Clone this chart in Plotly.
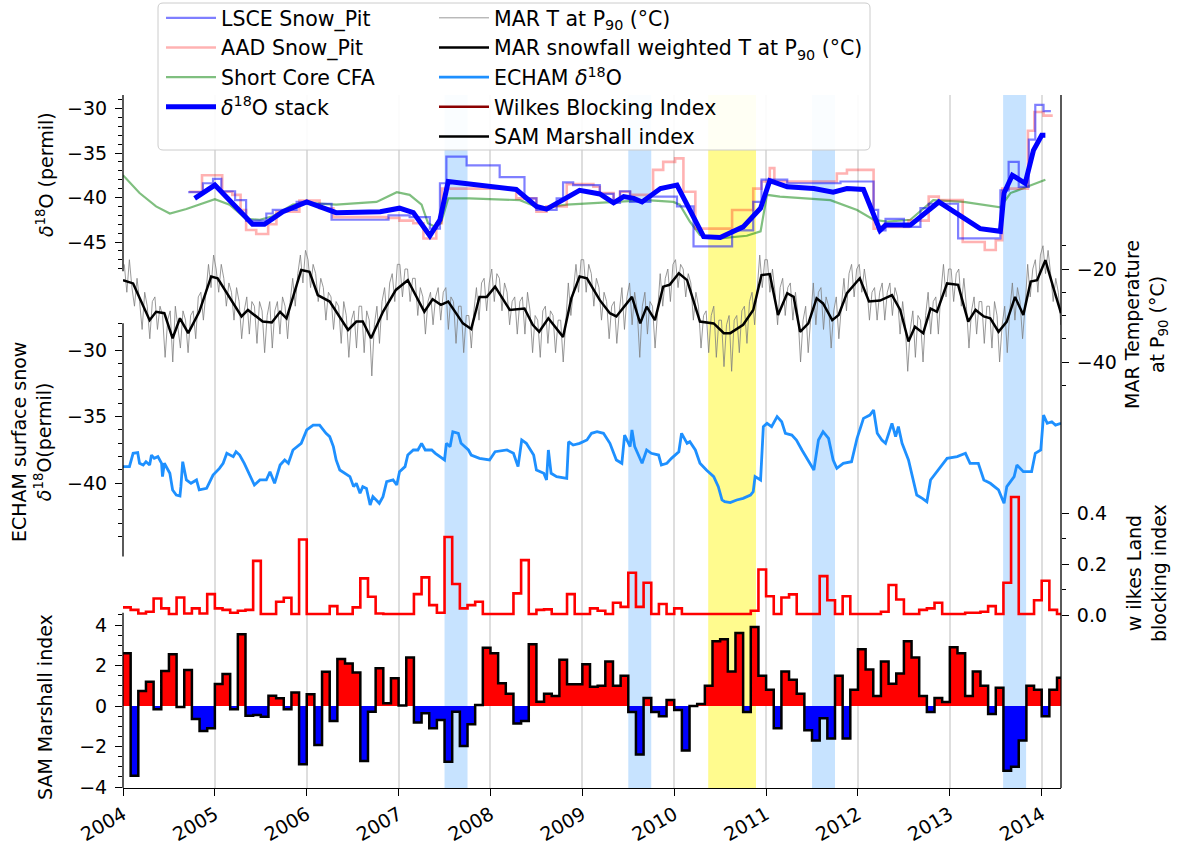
import numpy as np
import plotly.graph_objects as go

# ---------------- data ----------------
# delta18O stack (decimal year, permil)
stack_year = [2004.78, 2005.0, 2005.41, 2005.54, 2005.74, 2006.0, 2006.32, 2006.8, 2007.01, 2007.16,
              2007.34, 2007.45, 2007.54, 2008.28, 2008.5, 2008.61, 2008.97, 2009.19, 2009.34, 2009.45,
              2009.56, 2009.65, 2009.85, 2010.03, 2010.32, 2010.5, 2010.75, 2010.94, 2011.04, 2011.23,
              2011.52, 2011.73, 2011.88, 2012.06, 2012.24, 2012.3, 2012.57, 2012.88, 2013.33, 2013.55,
              2013.59, 2013.68, 2013.82, 2013.91, 2014.0, 2014.04]
stack_val = [-40.1, -38.6, -43.0, -43.0, -41.6, -40.5, -41.7, -41.6, -41.2, -41.7,
             -44.3, -42.5, -38.2, -39.1, -41.0, -41.3, -39.2, -39.6, -40.6, -39.9,
             -40.1, -40.5, -39.0, -38.6, -44.4, -44.5, -43.3, -41.2, -38.1, -38.8,
             -39.0, -39.4, -39.0, -39.1, -43.7, -43.1, -43.1, -40.5, -43.5, -43.8,
             -39.5, -37.5, -38.4, -34.7, -33.0, -33.0]

# LSCE snow pit (step starts)
lsce_year = [2004.71, 2004.87, 2004.98, 2005.07, 2005.22, 2005.34, 2005.56, 2005.63, 2005.89, 2006.0,
             2006.27, 2006.89, 2007.12, 2007.34, 2007.45, 2007.52, 2007.74, 2008.10, 2008.37, 2008.50,
             2008.72, 2008.79, 2008.90, 2009.19, 2009.34, 2009.41, 2009.52, 2009.74, 2010.03, 2010.21,
             2010.63, 2010.86, 2010.95, 2011.23, 2011.81, 2012.17, 2012.22, 2012.30, 2012.50, 2012.68,
             2012.77, 2013.09, 2013.55, 2013.64, 2013.75, 2013.86, 2013.93, 2014.02, 2014.10]
lsce_val = [-39.4, -38.4, -37.9, -39.3, -40.3, -42.6, -41.8, -41.4, -40.5, -40.7,
            -42.5, -42.0, -42.2, -43.5, -38.4, -35.4, -36.4, -37.7, -40.1, -41.4,
            -40.1, -38.3, -38.6, -39.6, -40.6, -39.3, -40.5, -39.9, -41.0, -45.5,
            -43.7, -40.5, -38.0, -38.4, -38.2, -41.4, -43.7, -42.4, -43.3, -41.2,
            -40.7, -44.6, -39.2, -36.0, -38.8, -33.5, -29.6, -30.3, -30.3]

# AAD snow pit (step starts)
aad_year = [2004.72, 2004.86, 2005.08, 2005.19, 2005.28, 2005.34, 2005.45, 2005.58, 2005.67, 2005.92,
            2006.14, 2006.29, 2006.87, 2007.01, 2007.16, 2007.27, 2007.41, 2007.47, 2008.28, 2008.50,
            2008.61, 2008.83, 2009.12, 2009.19, 2009.34, 2009.41, 2009.52, 2009.77, 2009.88, 2010.01,
            2010.10, 2010.23, 2010.63, 2010.86, 2010.95, 2011.04, 2011.09, 2011.77, 2011.88, 2012.17,
            2012.26, 2012.55, 2012.77, 2012.88, 2013.14, 2013.38, 2013.50, 2013.57, 2013.85, 2013.92,
            2014.02, 2014.12]
aad_val = [-39.35, -37.5, -39.35, -39.7, -41.4, -43.65, -44.1, -43.0, -41.6, -40.35,
           -41.2, -42.2, -42.3, -42.6, -42.9, -44.6, -42.9, -39.0, -40.1, -41.6,
           -41.0, -38.5, -38.8, -39.5, -40.3, -39.35, -39.7, -36.9, -36.0, -35.6,
           -39.35, -43.5, -41.4, -39.0, -38.2, -36.7, -38.2, -37.3, -36.9, -43.5,
           -43.3, -42.6, -39.9, -40.3, -45.0, -45.9, -44.8, -39.0, -32.5, -30.4,
           -30.8, -30.8]

# Short core CFA
cfa_year = [2004.0, 2004.18, 2004.36, 2004.51, 2004.69, 2004.87, 2005.0, 2005.16, 2005.34, 2005.49,
            2005.63, 2005.85, 2006.0, 2006.32, 2006.76, 2006.98, 2007.12, 2007.25, 2007.32, 2007.4,
            2007.46, 2007.54, 2007.77, 2008.32, 2008.54, 2008.83, 2009.34, 2009.7, 2009.99, 2010.06,
            2010.17, 2010.28, 2010.5, 2010.79, 2010.94, 2011.01, 2011.15, 2011.7, 2011.99, 2012.17,
            2012.32, 2012.57, 2012.82, 2013.15, 2013.55, 2013.66, 2013.84, 2014.04]
cfa_val = [-37.5, -39.5, -41.0, -41.8, -41.3, -40.7, -40.2, -40.8, -42.4, -42.5,
           -42.1, -40.8, -40.6, -40.8, -40.5, -39.4, -39.7, -40.8, -42.9, -43.3,
           -42.9, -40.1, -40.1, -40.3, -41.2, -40.8, -40.5, -40.3, -40.5, -40.8,
           -42.7, -44.2, -44.6, -44.3, -43.8, -39.7, -39.9, -40.3, -41.4, -42.5,
           -42.7, -42.5, -40.3, -40.5, -41.1, -39.5, -38.8, -38.0]

# MAR T at P90 (three readings per month, Jan 2004 - Mar 2014)
mar_t_val = [
    -19, -25, -18, -24, -28, -22, -27, -33, -25, -28, -35, -27, -26, -33, -28, -30, -39, -31,
    -29, -40, -28, -33, -37, -29, -31, -38, -30, -29, -35, -26, -25, -31, -24, -19, -24, -17,
    -20, -25, -19, -22, -28, -23, -25, -31, -24, -27, -35, -29, -26, -34, -27, -28, -36, -27,
    -29, -38, -30, -27, -37, -29, -27, -34, -26, -28, -35, -27, -22, -28, -21, -17, -23, -16,
    -18, -24, -19, -21, -27, -22, -24, -31, -25, -26, -33, -27, -28, -36, -27, -30, -39, -31,
    -29, -37, -28, -28, -38, -29, -31, -43, -32, -28, -36, -27, -24, -31, -23, -21, -27, -19,
    -19, -26, -20, -20, -27, -22, -22, -30, -24, -26, -34, -27, -25, -32, -26, -24, -31, -25,
    -24, -33, -26, -27, -36, -28, -28, -38, -30, -30, -37, -29, -24, -31, -23, -22, -29, -23,
    -20, -27, -21, -22, -29, -23, -25, -32, -27, -26, -34, -27, -26, -34, -25, -29, -38, -30,
    -31, -39, -29, -28, -36, -29, -30, -38, -31, -31, -40, -32, -23, -30, -24, -19, -25, -18,
    -18, -25, -19, -21, -28, -22, -24, -31, -25, -27, -35, -28, -27, -36, -29, -24, -33, -26,
    -23, -32, -25, -29, -39, -28, -25, -34, -27, -28, -37, -29, -21, -28, -22, -20, -27, -19,
    -18, -24, -19, -20, -26, -21, -23, -31, -25, -28, -37, -30, -29, -38, -30, -28, -39, -31,
    -31, -41, -32, -30, -42, -31, -30, -38, -29, -28, -36, -27, -25, -32, -24, -17, -24, -18,
    -18, -25, -20, -25, -32, -24, -22, -30, -24, -23, -31, -25, -30, -40, -31, -28, -38, -30,
    -23, -32, -25, -24, -33, -26, -28, -37, -29, -26, -35, -28, -22, -29, -21, -19, -26, -20,
    -19, -25, -20, -24, -31, -25, -24, -31, -25, -23, -31, -25, -23, -30, -24, -26, -34, -27,
    -32, -42, -33, -29, -39, -30, -31, -40, -30, -25, -34, -27, -26, -34, -25, -19, -26, -20,
    -20, -27, -21, -20, -28, -22, -28, -37, -29, -26, -34, -27, -27, -36, -28, -28, -37, -27,
    -30, -40, -32, -28, -38, -29, -23, -31, -24, -27, -35, -28, -19, -26, -20, -18, -25, -17,
    -15, -21, -16, -21, -27, -22, -25, -32, -27]

# MAR snowfall weighted T at P90
mar_sw_year = [2004.0, 2004.11, 2004.29, 2004.36, 2004.45, 2004.54, 2004.62, 2004.71, 2004.83, 2004.96,
               2005.03, 2005.16, 2005.29, 2005.36, 2005.52, 2005.62, 2005.71, 2005.78, 2005.94, 2006.03,
               2006.12, 2006.25, 2006.45, 2006.54, 2006.61, 2006.70, 2006.83, 2006.97, 2007.10, 2007.28,
               2007.37, 2007.46, 2007.54, 2007.70, 2007.79, 2007.88, 2007.96, 2008.05, 2008.21, 2008.37,
               2008.46, 2008.53, 2008.63, 2008.79, 2008.88, 2008.97, 2009.05, 2009.19, 2009.30, 2009.37,
               2009.54, 2009.63, 2009.70, 2009.79, 2009.88, 2009.95, 2010.05, 2010.14, 2010.28, 2010.43,
               2010.54, 2010.61, 2010.75, 2010.86, 2010.95, 2011.04, 2011.13, 2011.23, 2011.30, 2011.37,
               2011.46, 2011.55, 2011.62, 2011.72, 2011.79, 2011.88, 2012.02, 2012.12, 2012.24, 2012.37,
               2012.46, 2012.55, 2012.62, 2012.71, 2012.79, 2012.86, 2012.97, 2013.09, 2013.20, 2013.28,
               2013.37, 2013.44, 2013.53, 2013.62, 2013.71, 2013.80, 2013.88, 2013.95, 2014.04, 2014.13,
               2014.21]
mar_sw_val = [-22.4, -23.1, -31.0, -29.2, -29.5, -34.9, -30.6, -33.8, -29.2, -21.6,
              -22.0, -26.0, -30.2, -28.8, -31.3, -31.5, -29.2, -30.6, -20.2, -20.6,
              -25.6, -27.0, -33.1, -31.3, -31.3, -34.9, -29.2, -24.5, -22.4, -29.2,
              -26.5, -27.7, -27.0, -31.7, -32.9, -26.0, -26.0, -23.8, -28.8, -28.5,
              -32.0, -33.5, -30.6, -34.6, -26.3, -21.6, -22.0, -26.7, -29.5, -30.2,
              -26.0, -31.7, -28.1, -31.0, -23.8, -23.4, -20.9, -22.4, -31.3, -31.7,
              -33.8, -33.8, -32.0, -28.8, -21.3, -21.1, -29.9, -25.2, -26.0, -33.5,
              -31.7, -26.3, -27.4, -31.0, -29.9, -25.2, -22.0, -27.0, -26.8, -25.6,
              -28.8, -35.6, -32.4, -33.8, -28.5, -29.2, -23.1, -23.4, -31.3, -28.8,
              -30.2, -30.6, -33.5, -31.3, -26.0, -29.9, -22.7, -22.4, -18.1, -24.2,
              -29.5]

# ECHAM surface snow delta18O
echam_year = [2004.0, 2004.07, 2004.11, 2004.16, 2004.18, 2004.22, 2004.25, 2004.29, 2004.31, 2004.34,
              2004.38, 2004.42, 2004.43, 2004.45, 2004.51, 2004.54, 2004.58, 2004.62, 2004.63, 2004.65,
              2004.69, 2004.74, 2004.80, 2004.83, 2004.91, 2004.98, 2005.05, 2005.09, 2005.13, 2005.20,
              2005.23, 2005.27, 2005.32, 2005.38, 2005.43, 2005.49, 2005.56, 2005.60, 2005.65, 2005.71,
              2005.76, 2005.80, 2005.85, 2005.94, 2006.0, 2006.07, 2006.14, 2006.21, 2006.25, 2006.29,
              2006.32, 2006.36, 2006.47, 2006.51, 2006.54, 2006.58, 2006.61, 2006.65, 2006.69, 2006.72,
              2006.79, 2006.83, 2006.87, 2006.94, 2006.98, 2007.01, 2007.07, 2007.10, 2007.16, 2007.21,
              2007.25, 2007.29, 2007.36, 2007.40, 2007.45, 2007.50, 2007.52, 2007.56, 2007.59, 2007.65,
              2007.68, 2007.76, 2007.79, 2007.88, 2007.99, 2008.05, 2008.18, 2008.25, 2008.30, 2008.34,
              2008.39, 2008.47, 2008.50, 2008.58, 2008.61, 2008.63, 2008.66, 2008.72, 2008.83, 2008.85,
              2008.90, 2008.97, 2009.05, 2009.10, 2009.16, 2009.23, 2009.30, 2009.37, 2009.43, 2009.46,
              2009.52, 2009.54, 2009.57, 2009.65, 2009.70, 2009.75, 2009.83, 2009.86, 2009.92, 2009.97,
              2010.05, 2010.08, 2010.14, 2010.17, 2010.23, 2010.28, 2010.35, 2010.43, 2010.48, 2010.52,
              2010.55, 2010.61, 2010.68, 2010.75, 2010.83, 2010.86, 2010.88, 2010.94, 2010.97, 2011.01,
              2011.06, 2011.12, 2011.17, 2011.21, 2011.28, 2011.33, 2011.39, 2011.48, 2011.52, 2011.57,
              2011.62, 2011.68, 2011.73, 2011.77, 2011.84, 2011.93, 2011.99, 2012.06, 2012.13, 2012.17,
              2012.21, 2012.26, 2012.30, 2012.37, 2012.41, 2012.44, 2012.48, 2012.55, 2012.61, 2012.64,
              2012.70, 2012.75, 2012.79, 2012.90, 2012.97, 2013.08, 2013.17, 2013.22, 2013.31, 2013.37,
              2013.44, 2013.53, 2013.59, 2013.62, 2013.70, 2013.73, 2013.80, 2013.89, 2013.93, 2013.99,
              2014.02, 2014.06, 2014.11, 2014.15, 2014.21]
echam_val = [-38.75, -38.75, -37.75, -37.7, -38.5, -38.63, -38.38, -38.63, -37.88, -38.13,
             -38.0, -38.5, -39.5, -38.5, -39.25, -40.5, -40.88, -40.95, -40.25, -38.38,
             -39.75, -40.0, -39.75, -40.5, -40.38, -39.38, -38.88, -38.5, -37.75, -38.0,
             -37.63, -37.88, -38.5, -39.38, -40.13, -39.75, -39.75, -39.13, -40.0, -38.63,
             -38.25, -38.5, -37.5, -37.0, -36.0, -35.63, -35.63, -36.25, -36.5, -37.25,
             -38.25, -39.0, -39.5, -40.25, -40.0, -40.75, -40.25, -40.38, -41.63, -41.0,
             -41.5, -41.0, -39.88, -39.75, -40.13, -39.13, -38.75, -37.88, -37.5, -37.5,
             -37.0, -37.5, -37.5, -37.75, -38.0, -38.25, -37.0, -37.25, -36.13, -36.25,
             -37.0, -37.5, -37.88, -38.13, -38.25, -37.63, -37.5, -37.75, -38.75, -36.75,
             -37.0, -37.88, -39.0, -39.25, -39.75, -37.5, -39.25, -39.5, -39.63, -36.88,
             -37.13, -37.0, -36.75, -36.25, -36.13, -36.25, -37.0, -38.25, -38.5, -36.38,
             -37.25, -36.0, -37.25, -38.5, -37.5, -37.75, -37.88, -38.63, -38.5, -38.13,
             -37.63, -36.25, -37.0, -36.88, -37.5, -38.5, -39.0, -39.5, -40.25, -41.25,
             -41.38, -41.45, -41.25, -41.13, -40.88, -40.63, -39.5, -39.75, -35.75, -35.5,
             -35.75, -35.0, -35.38, -36.25, -36.38, -36.75, -37.5, -38.5, -39.0, -36.75,
             -36.13, -36.63, -38.25, -38.88, -38.5, -38.38, -36.63, -35.13, -34.88, -34.5,
             -36.25, -36.75, -37.0, -35.5, -36.5, -35.75, -37.0, -38.25, -40.0, -40.88,
             -41.13, -41.38, -39.75, -38.75, -38.13, -38.0, -37.75, -38.5, -38.5, -39.75,
             -40.0, -40.5, -41.5, -40.25, -39.5, -38.63, -39.13, -39.13, -37.75, -37.5,
             -34.88, -35.5, -35.38, -35.63, -35.5]

# Wilkes Land blocking index (monthly, Jan 2004 - Mar 2014)
wilkes_val = [0.03, 0.02, 0.006, 0.013, 0.065, 0.026, 0.004, 0.069, 0.006, 0.026, 0.006, 0.082,
              0.026, 0.02, 0.009, 0.017, 0.02, 0.213, 0.004, 0.004, 0.052, 0.068, 0.004, 0.297,
              0.004, 0.004, 0.004, 0.035, 0.004, 0.004, 0.03, 0.144, 0.072, 0.006, 0.004, 0.004,
              0.004, 0.004, 0.082, 0.148, 0.039, 0.009, 0.307, 0.122, 0.026, 0.039, 0.052, 0.004,
              0.004, 0.004, 0.004, 0.085, 0.216, 0.004, 0.02, 0.022, 0.004, 0.004, 0.082, 0.004,
              0.004, 0.026, 0.017, 0.004, 0.048, 0.032, 0.166, 0.032, 0.127, 0.004, 0.043, 0.004,
              0.026, 0.004, 0.004, 0.004, 0.004, 0.004, 0.004, 0.004, 0.004, 0.004, 0.017, 0.179,
              0.074, 0.004, 0.069, 0.081, 0.004, 0.004, 0.004, 0.153, 0.058, 0.004, 0.074, 0.004,
              0.004, 0.004, 0.004, 0.013, 0.118, 0.061, 0.004, 0.004, 0.02, 0.026, 0.048, 0.004,
              0.004, 0.004, 0.009, 0.009, 0.013, 0.035, 0.004, 0.127, 0.464, 0.004, 0.004, 0.058,
              0.135, 0.02, 0.004]

# SAM Marshall index (monthly, Jan 2004 - Mar 2014)
sam_val = [2.6, -3.44, 0.74, 1.2, -0.16, 1.73, 2.55, -0.05, 1.78, -0.64, -1.23, -1.1,
           1.09, 1.58, -0.16, 3.54, -0.48, -0.44, -0.53, 0.51, 0.38, -0.16, 0.67, -2.88,
           0.58, -1.93, 1.69, -0.74, 2.32, 2.1, 1.65, -2.72, -0.28, 1.86, 0.13, 1.37,
           0.02, 2.4, -0.82, -0.36, -1.1, -0.69, -2.75, -0.28, -1.98, -0.9, 0.05, 2.88,
           2.6, 1.12, 0.6, -0.86, -0.74, 3.05, 0.21, 0.6, 0.5, 2.28, 1.07, 1.07,
           2.06, 0.95, 1.0, 2.2, 1.0, 1.5, -0.3, -2.4, 0.4, -0.3, -0.5, 0.3,
           -0.2, -2.2, 0.0, 0.1, 1.0, 3.2, 3.3, 1.7, 3.6, -0.3, 3.9, 1.5,
           0.8, -1.1, 1.7, 1.3, 0.6, -1.2, -1.7, -0.6, -1.6, 1.5, -1.6, 0.8,
           2.8, 1.8, 0.5, 2.2, 1.1, 1.6, 3.2, 2.4, 0.5, -0.3, 0.4, 0.2,
           2.9, 2.6, 0.5, 1.7, 1.0, -0.4, 0.9, -3.2, -3.0, -1.7, 1.0, 0.8,
           -0.5, 0.8, 1.4]

# highlighted periods
blue_start = [2007.50, 2009.50, 2011.50, 2013.58]
blue_end = [2007.75, 2009.75, 2011.75, 2013.83]
yellow_start = [2010.37]
yellow_end = [2010.89]

year_ticks = list(range(2004, 2015))

# ---------------- geometry ----------------
W, H = 1181, 850
L, R, T, B = 123, 1061, 95, 788
PW, PH = R - L, B - T


def px2paper(px, py):
    return (px - L) / PW, (B - py) / PH


def axis_range(v_ref, py_ref, ppu):
    return [v_ref - (B - py_ref) / ppu, v_ref + (py_ref - T) / ppu]


rng_d18o = axis_range(-30, 108.5, 8.9)
rng_echam = axis_range(-30, 350, 13.33)
rng_sam = axis_range(0, 706, 20.25)
rng_mar = axis_range(-20, 269, 4.65)
rng_wil = axis_range(0, 615, 254.25)

FONT = "DejaVu Sans"
TICKF = dict(family=FONT, size=19, color="black")
LEGF = dict(family=FONT, size=20.5, color="black")

# ---------------- traces ----------------
fig = go.Figure()

month_x = 2004 + np.arange(len(sam_val)) / 12.0
wil_x = 2004 + np.arange(len(wilkes_val) + 1) / 12.0
wil_y = list(wilkes_val) + [wilkes_val[-1]]
mar_t_x = 2004 + (np.arange(len(mar_t_val)) + 0.5) / 36.0

fig.add_trace(go.Scatter(x=cfa_year, y=cfa_val, mode="lines", name="Short Core CFA",
                         line=dict(color="rgba(0,128,0,0.5)", width=2.2), legend="legend",
                         legendrank=3, yaxis="y"))
fig.add_trace(go.Scatter(x=aad_year, y=aad_val, mode="lines", line_shape="hv", name="AAD Snow_Pit",
                         line=dict(color="rgba(255,0,0,0.3)", width=2.6), legend="legend",
                         legendrank=2, yaxis="y"))
fig.add_trace(go.Scatter(x=lsce_year, y=lsce_val, mode="lines", line_shape="hv", name="LSCE Snow_Pit",
                         line=dict(color="rgba(0,0,255,0.5)", width=2.2), legend="legend",
                         legendrank=1, yaxis="y"))
fig.add_trace(go.Scatter(x=stack_year, y=stack_val, mode="lines",
                         name="<i>δ</i><sup>18</sup>O stack",
                         line=dict(color="#0000ff", width=5), legend="legend",
                         legendrank=4, yaxis="y"))

fig.add_trace(go.Scatter(x=mar_t_x, y=mar_t_val, mode="lines", name="MAR T at P<sub>90</sub> (°C)",
                         line=dict(color="rgba(128,128,128,0.8)", width=1), legend="legend2",
                         yaxis="y4"))
fig.add_trace(go.Scatter(x=mar_sw_year, y=mar_sw_val, mode="lines",
                         name="MAR snowfall weighted T at P<sub>90</sub> (°C)",
                         line=dict(color="black", width=2.5), legend="legend2", yaxis="y4"))
fig.add_trace(go.Scatter(x=echam_year, y=echam_val, mode="lines",
                         name="ECHAM <i>δ</i><sup>18</sup>O",
                         line=dict(color="#1e90ff", width=2.8), legend="legend2", yaxis="y2"))
fig.add_trace(go.Scatter(x=wil_x, y=wil_y, mode="lines", line_shape="hv", showlegend=False,
                         line=dict(color="#ff0000", width=2.6), yaxis="y5"))
fig.add_trace(go.Scatter(x=[None], y=[None], mode="lines", name="Wilkes Blocking Index",
                         line=dict(color="#8b0000", width=2.5), legend="legend2", yaxis="y5"))
sam_colors = np.where(np.array(sam_val) > 0, "#ff0000", "#0000ff")
fig.add_trace(go.Bar(x=month_x + 1 / 24.0, y=sam_val, width=1 / 12.0,
                     marker=dict(color=sam_colors, line=dict(width=0)),
                     showlegend=False, yaxis="y3"))
sam_step_x = list(month_x) + [month_x[-1] + 1 / 12.0]
sam_step_y = list(sam_val) + [sam_val[-1]]
fig.add_trace(go.Scatter(x=sam_step_x, y=sam_step_y, mode="lines", line_shape="hv",
                         name="SAM Marshall index", line=dict(color="black", width=2.5),
                         legend="legend2", yaxis="y3"))

# ---------------- shapes ----------------
shapes = []
for s, e in zip(blue_start, blue_end):
    shapes.append(dict(type="rect", xref="x", yref="paper", x0=s, x1=e, y0=0, y1=1,
                       fillcolor="rgba(30,144,255,0.25)", line=dict(width=0), layer="below"))
for s, e in zip(yellow_start, yellow_end):
    shapes.append(dict(type="rect", xref="x", yref="paper", x0=s, x1=e, y0=0, y1=1,
                       fillcolor="rgba(255,248,30,0.5)", line=dict(width=0), layer="below"))
SP = dict(color="black", width=1.3)
shapes.append(dict(type="line", xref="paper", yref="y", x0=0, x1=0, y0=-48.3, y1=rng_d18o[1], line=SP))
shapes.append(dict(type="line", xref="paper", yref="y2", x0=0, x1=0, y0=-45.5, y1=-28.0, line=SP))
shapes.append(dict(type="line", xref="paper", yref="y3", x0=0, x1=0, y0=rng_sam[0], y1=4.6, line=SP))
shapes.append(dict(type="line", xref="paper", yref="paper", x0=1, x1=1, y0=0, y1=1, line=SP))

# legend frame (rounded)
bx0, by0 = px2paper(158, 150)
bx1, by1 = px2paper(870, 3)
rx, ry = 5 / PW, 5 / PH
path = (f"M{bx0 + rx},{by0} L{bx1 - rx},{by0} Q{bx1},{by0} {bx1},{by0 + ry} "
        f"L{bx1},{by1 - ry} Q{bx1},{by1} {bx1 - rx},{by1} L{bx0 + rx},{by1} "
        f"Q{bx0},{by1} {bx0},{by1 - ry} L{bx0},{by0 + ry} Q{bx0},{by0} {bx0 + rx},{by0} Z")
shapes.append(dict(type="path", xref="paper", yref="paper", path=path, fillcolor="rgba(255,255,255,0.9)",
                   line=dict(color="#cccccc", width=1), layer="above"))

# ---------------- axes ----------------
def minor_vals(lo, hi, step, major_step):
    vals = []
    v = lo
    while v <= hi + 1e-9:
        if abs(v / major_step - round(v / major_step)) > 1e-6:
            vals.append(round(v, 4))
        v += step
    return vals


def yax(rng, side, tickvals, minors, overlay=True, fmt=None):
    d = dict(range=rng, side=side, anchor="x", tickvals=tickvals, ticks="outside", ticklen=7,
             tickwidth=1.3, tickcolor="black", showgrid=False, zeroline=False, showline=False,
             tickfont=TICKF, automargin=False, ticklabelstandoff=4,
             minor=dict(tickvals=minors, ticks="outside", ticklen=4, tickwidth=1, tickcolor="black",
                        showgrid=False))
    if overlay:
        d["overlaying"] = "y"
    if fmt:
        d["tickformat"] = fmt
    return d


layout = dict(
    width=W, height=H,
    margin=dict(l=L, r=W - R, t=T, b=H - B, autoexpand=False),
    paper_bgcolor="white", plot_bgcolor="rgba(0,0,0,0)",
    font=dict(family=FONT, size=19, color="black"),
    showlegend=True,
    bargap=0,
    xaxis=dict(range=[2004.0, 2014.21], tickvals=year_ticks, ticktext=[str(y) for y in year_ticks],
               tickangle=-30, showgrid=True, gridcolor="#dedede", gridwidth=1.5, zeroline=False,
               showline=True, linecolor="black", linewidth=1.3, ticks="outside", ticklen=7,
               tickwidth=1.3, tickcolor="black", tickfont=TICKF, automargin=False, anchor="y"),
    yaxis=yax(rng_d18o, "left", [-45, -40, -35, -30], minor_vals(-48, -29, 1, 5), overlay=False),
    yaxis2=yax(rng_echam, "left", [-40, -35, -30], minor_vals(-45, -28, 1, 5)),
    yaxis3=yax(rng_sam, "left", [-4, -2, 0, 2, 4], minor_vals(-4, 4.5, 0.5, 2)),
    yaxis4=yax(rng_mar, "right", [-40, -20], [-45, -35, -30, -25, -15]),
    yaxis5=yax(rng_wil, "right", [0.0, 0.2, 0.4], [0.1, 0.3], fmt=".1f"),
    shapes=shapes,
    legend=dict(x=px2paper(161, 0)[0], y=px2paper(0, -2)[1], xanchor="left", yanchor="top",
                bgcolor="rgba(0,0,0,0)", borderwidth=0, font=LEGF,
                itemwidth=50, tracegroupgap=0),
    legend2=dict(x=px2paper(434, 0)[0], y=px2paper(0, -2)[1], xanchor="left", yanchor="top",
                 bgcolor="rgba(0,0,0,0)", borderwidth=0, font=LEGF,
                 itemwidth=50, tracegroupgap=0),
)

ann = []


def ylabel(text, px, py):
    x, y = px2paper(px, py)
    ann.append(dict(text=text, x=x, y=y, xref="paper", yref="paper", showarrow=False, textangle=-90,
                    font=dict(family=FONT, size=19, color="black"), xanchor="center", yanchor="middle"))


ylabel("<i>δ</i><sup>18</sup>O (permil)", 45, 175)
ylabel("ECHAM surface snow<br><i>δ</i><sup>18</sup>O(permil)", 32, 442)
ylabel("SAM Marshall index", 45, 707)
ylabel("MAR Temperature<br>at P<sub>90</sub> (°C)", 1146, 325)
ylabel("w ilkes Land<br>blocking index", 1146, 573)
layout["annotations"] = ann

fig.update_layout(**layout)
fig.write_html("out.html")
